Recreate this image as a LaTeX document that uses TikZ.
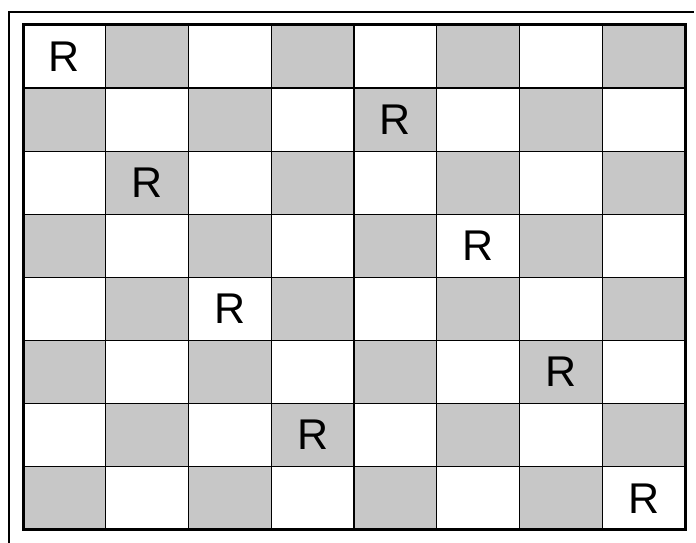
\documentclass[tikz,border=0pt]{standalone}
\usepackage{fontspec}
\setmainfont{Liberation Sans}
\begin{document}
\begin{tikzpicture}[x=1pt,y=-1pt,
  cell/.style={draw=black,line width=1.4pt,minimum width=82.75pt,minimum height=63.1pt,inner sep=0pt,outer sep=0pt,anchor=north west,font=\fontsize{43}{43}\selectfont},
  light/.style={cell,fill=white},
  dark/.style={cell,fill=black!22},
  frame/.style={line width=2pt,draw=black}]
\useasboundingbox (0,0) rectangle (696,543);
\coordinate (ftl) at (9,12);
\coordinate (ftr) at (694,12);
\coordinate (fbl) at (9,543);
\draw[frame] (fbl) -- (ftl) -- (ftr);
\foreach \r/\q in {0/0,1/4,2/1,3/5,4/2,5/6,6/3,7/7}{
  \foreach \c in {0,...,7}{
    \pgfmathtruncatemacro{\p}{mod(\r+\c,2)}
    \ifnum\p=0 \def\sty{light}\else\def\sty{dark}\fi
    \ifnum\c=\q \def\txt{R}\else\def\txt{}\fi
    \node[\sty] (c-\r-\c) at ({23+82.75*\c},{25+63.1*\r}) {\txt};
  }
}
\draw[line width=3pt] (c-0-0.north west) rectangle (c-7-7.south east);
\end{tikzpicture}
\end{document}
